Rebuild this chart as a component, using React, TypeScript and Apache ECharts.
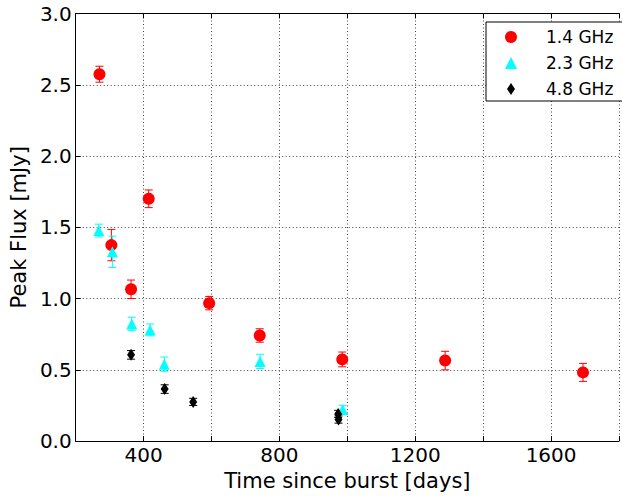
import React, { useEffect, useRef } from "react";
import * as echarts from "echarts";

const days14 = [270, 305, 363, 415, 593, 742, 985, 1288, 1694];
const flux14 = [2.574, 1.375, 1.065, 1.7, 0.968, 0.741, 0.573, 0.565, 0.482];
const err14 = [0.056, 0.11, 0.065, 0.062, 0.047, 0.047, 0.052, 0.065, 0.063];

const days23 = [268, 308, 365, 419, 461, 743, 986];
const flux23 = [1.477, 1.328, 0.822, 0.78, 0.54, 0.559, 0.221];
const err23 = [0.045, 0.11, 0.047, 0.042, 0.05, 0.05, 0.03];

const days48 = [363, 462, 546, 973, 974];
const flux48 = [0.605, 0.365, 0.275, 0.191, 0.151];
const err48 = [0.03, 0.03, 0.025, 0.025, 0.025];

const xTicks = [400, 800, 1200, 1600];
const yTicks = [0, 0.5, 1, 1.5, 2, 2.5, 3];

const FONT = "DejaVu Sans";
const DIAMOND = "path://M0,-6L4,0L0,6L-4,0Z";

function errSeries(days: number[], flux: number[], err: number[], color: string) {
  return {
    type: "custom",
    silent: true,
    data: days.map((d, i) => [d, flux[i], err[i]]),
    encode: { x: 0, y: 1 },
    renderItem: (params: any, api: any) => {
      const x = api.value(0);
      const y = api.value(1);
      const e = api.value(2);
      const top = api.coord([x, y + e]);
      const bot = api.coord([x, y - e]);
      const hw = 4;
      const style = { stroke: color, lineWidth: 1 };
      return {
        type: "group",
        children: [
          { type: "line", shape: { x1: top[0], y1: top[1], x2: bot[0], y2: bot[1] }, style },
          { type: "line", shape: { x1: top[0] - hw, y1: top[1], x2: top[0] + hw, y2: top[1] }, style },
          { type: "line", shape: { x1: bot[0] - hw, y1: bot[1], x2: bot[0] + hw, y2: bot[1] }, style },
        ],
      };
    },
  };
}

export default function App() {
  const ref = useRef<HTMLDivElement>(null);
  useEffect(() => {
    if (!ref.current) return;
    const chart = echarts.init(ref.current, undefined, { renderer: "svg" });
    const gridLine = { show: true, lineStyle: { color: "#444", type: [1, 2.5], width: 1 } };
    chart.setOption({
      animation: false,
      backgroundColor: "#fff",
      textStyle: { fontFamily: FONT },
      grid: { left: 74.5, top: 13.5, bottom: 52.7, right: -8.5, containLabel: false },
      legend: {
        show: true,
        left: 486,
        top: 22,
        orient: "vertical",
        data: [
          { name: "1.4 GHz", icon: "circle" },
          { name: "2.3 GHz", icon: "triangle" },
          { name: "4.8 GHz", icon: DIAMOND },
        ],
        itemWidth: 12,
        itemHeight: 12,
        itemGap: 6,
        padding: [5, 30, 2, 19],
        borderColor: "#000",
        borderWidth: 1,
        backgroundColor: "#fff",
        textStyle: { fontFamily: FONT, fontSize: 17, color: "#000", padding: [0, 0, 0, 24], lineHeight: 20 },
      },
      xAxis: [
        {
          type: "value",
          min: 200,
          max: 1800,
          interval: 200,
          name: "Time since burst [days]",
          nameLocation: "middle",
          nameGap: 24,
          nameTextStyle: { fontFamily: FONT, fontSize: 21, color: "#000" },
          axisLine: { show: true, lineStyle: { color: "#000", width: 1 } },
          axisTick: { show: true, inside: true, length: 5, lineStyle: { color: "#000" } },
          axisLabel: {
            fontFamily: FONT,
            fontSize: 20,
            color: "#000",
            margin: 4,
            formatter: (v: number) => (xTicks.includes(v) ? String(v) : ""),
          },
          splitLine: gridLine,
        },
        {
          type: "value",
          position: "top",
          min: 200,
          max: 1800,
          interval: 200,
          axisLine: { show: true, lineStyle: { color: "#000", width: 1 } },
          axisTick: { show: true, inside: true, length: 5, lineStyle: { color: "#000" } },
          axisLabel: { show: false },
          splitLine: { show: false },
        },
      ],
      yAxis: [
        {
          type: "value",
          min: 0,
          max: 3,
          interval: 0.5,
          name: "Peak Flux [mJy]",
          nameLocation: "middle",
          nameGap: 40,
          nameTextStyle: { fontFamily: FONT, fontSize: 21, color: "#000" },
          axisLine: { show: true, lineStyle: { color: "#000", width: 1 } },
          axisTick: { show: true, inside: true, length: 5, lineStyle: { color: "#000" } },
          axisLabel: {
            fontFamily: FONT,
            fontSize: 20,
            color: "#000",
            margin: 4,
            formatter: (v: number) => (yTicks.includes(v) ? v.toFixed(1) : ""),
          },
          splitLine: gridLine,
        },
      ],
      series: [
        errSeries(days14, flux14, err14, "#ff0000"),
        {
          name: "1.4 GHz",
          type: "scatter",
          symbol: "circle",
          symbolSize: 12,
          itemStyle: { color: "#ff0000", opacity: 1 },
          data: days14.map((d, i) => [d, flux14[i]]),
        },
        errSeries(days23, flux23, err23, "#00ffff"),
        {
          name: "2.3 GHz",
          type: "scatter",
          symbol: "triangle",
          symbolSize: 11,
          itemStyle: { color: "#00ffff", opacity: 1 },
          data: days23.map((d, i) => [d, flux23[i]]),
        },
        errSeries(days48, flux48, err48, "#000000"),
        {
          name: "4.8 GHz",
          type: "scatter",
          symbol: "diamond",
          symbolSize: [8, 12],
          itemStyle: { color: "#000000", opacity: 1 },
          data: days48.map((d, i) => [d, flux48[i]]),
        },
      ],
    });
    return () => chart.dispose();
  }, []);
  return (
    <div
      ref={ref}
      style={{ position: "fixed", left: 0, top: 0, width: 622, height: 496, background: "#fff" }}
    />
  );
}
